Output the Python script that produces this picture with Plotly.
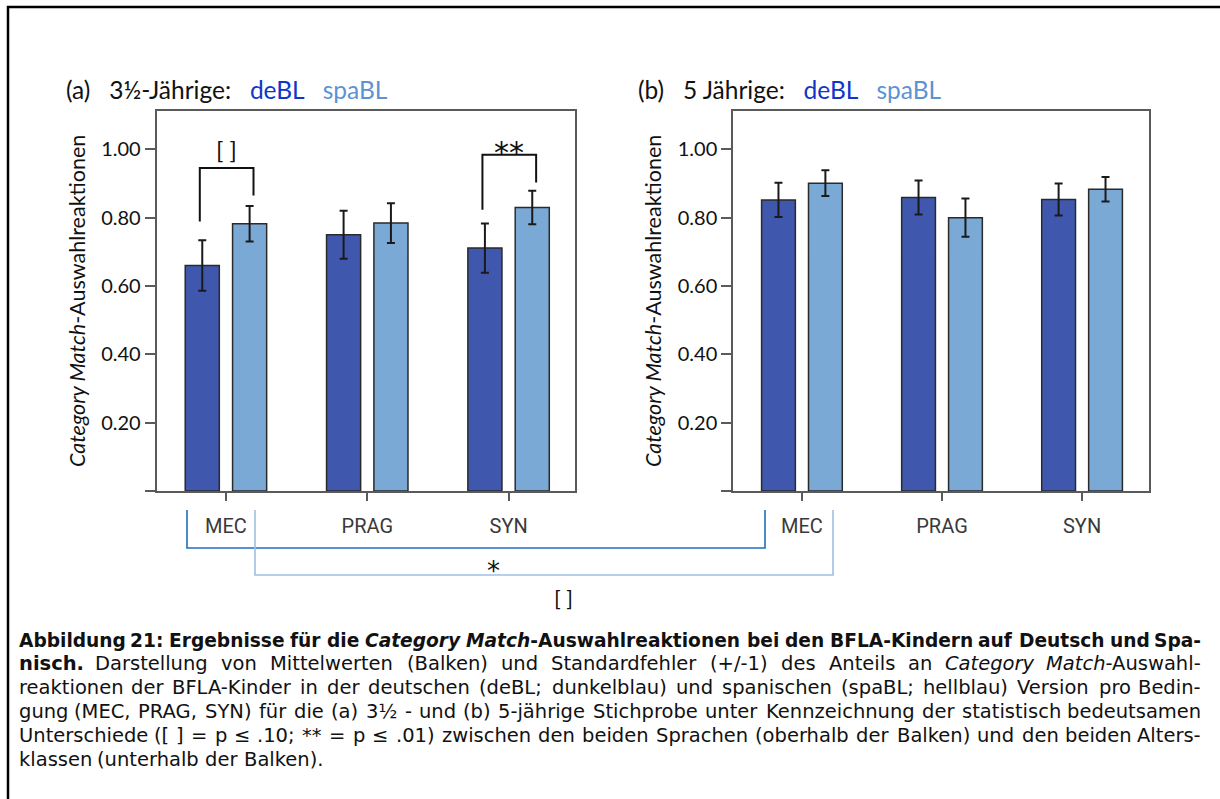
import plotly.graph_objects as go

# ---------------- data ----------------
categories = ["MEC", "PRAG", "SYN"]
series_names = ["deBL", "spaBL"]
a_debl = [0.660, 0.750, 0.711]
a_debl_err = [0.074, 0.070, 0.072]
a_spabl = [0.782, 0.784, 0.830]
a_spabl_err = [0.052, 0.058, 0.049]
b_debl = [0.852, 0.859, 0.853]
b_debl_err = [0.050, 0.050, 0.047]
b_spabl = [0.901, 0.800, 0.883]
b_spabl_err = [0.038, 0.056, 0.036]
y_tickvals = [0.0, 0.2, 0.4, 0.6, 0.8, 1.0]
y_ticktext = ["", "0.20", "0.40", "0.60", "0.80", "1.00"]

caption_lines = [
    "<b>Abbildung 21: Ergebnisse für die <i>Category Match</i>-Auswahlreaktionen bei den BFLA-Kindern auf Deutsch und Spa-</b>",
    "<b>nisch.</b> Darstellung von Mittelwerten (Balken) und Standardfehler (+/-1) des Anteils an <i>Category Match</i>-Auswahl-",
    "reaktionen der BFLA-Kinder in der deutschen (deBL; dunkelblau) und spanischen (spaBL; hellblau) Version pro Bedin-",
    "gung (MEC, PRAG, SYN) für die (a) 3½ - und (b) 5-jährige Stichprobe unter Kennzeichnung der statistisch bedeutsamen",
    "Unterschiede ([ ] =  p ≤ .10; ** = p ≤ .01) zwischen den beiden Sprachen (oberhalb der Balken) und den beiden Alters-",
    "klassen (unterhalb der Balken).",
]

W, H = 1220, 799
DARK = "#3F58AE"
LIGHT = "#7BA9D6"
FONT = "Lato"
STAR_FONT = "DejaVu Sans"
CAP_FONT = "DejaVu Sans"


def px(x):
    return x / W


def py(y):
    return 1 - y / H


fig = go.Figure()


def add_bars(vals, errs, color, xa, ya, name):
    fig.add_trace(go.Bar(
        x=categories, y=vals, name=name, xaxis=xa, yaxis=ya,
        marker=dict(color=color, line=dict(color="#2a2a2a", width=1.5)),
        error_y=dict(type="data", array=errs, visible=True,
                     color="#1a1a1a", thickness=2, width=4),
        showlegend=False,
    ))


add_bars(a_debl, a_debl_err, DARK, "x", "y", series_names[0])
add_bars(a_spabl, a_spabl_err, LIGHT, "x", "y", series_names[1])
add_bars(b_debl, b_debl_err, DARK, "x2", "y2", series_names[0])
add_bars(b_spabl, b_spabl_err, LIGHT, "x2", "y2", series_names[1])

xcommon = dict(type="category", showline=True, mirror=True, linecolor="#5a5a5a",
               linewidth=2, ticks="outside", ticklen=8, tickwidth=2,
               tickcolor="#5a5a5a", showgrid=False, zeroline=False,
               tickfont=dict(family="Liberation Sans Narrow, Roboto, sans-serif",
                             size=20, color="#3a3a3a"),
               ticklabelstandoff=8, fixedrange=True)
ycommon = dict(range=[0, 1.113], showline=True, mirror=True, linecolor="#5a5a5a",
               linewidth=2, ticks="outside", ticklen=10, tickwidth=2,
               tickcolor="#5a5a5a", showgrid=False, zeroline=False,
               tickvals=y_tickvals, ticktext=y_ticktext,
               tickfont=dict(family=FONT, size=20, color="#111"),
               title=dict(text="<i>Category Match</i>-Auswahlreaktionen",
                          font=dict(family=FONT, size=21.5, color="#111"),
                          standoff=10),
               fixedrange=True)

fig.update_layout(
    width=W, height=H, margin=dict(l=0, r=0, t=0, b=0),
    paper_bgcolor="white", plot_bgcolor="white",
    barmode="group", bargap=0.33, bargroupgap=0.28,
    xaxis=dict(domain=[px(156.7), px(575)], range=[-0.49, 2.47], anchor="y", **xcommon),
    yaxis=dict(domain=[py(491), py(110.7)], anchor="x", **ycommon),
    xaxis2=dict(domain=[px(733.3), px(1149.3)], range=[-0.49, 2.48], anchor="y2", **xcommon),
    yaxis2=dict(domain=[py(491), py(110.7)], anchor="x2", **ycommon),
)

shapes = []
annotations = []

# outer frame
shapes.append(dict(type="rect", xref="paper", yref="paper", x0=px(8), x1=px(1226),
                   y0=py(7), y1=py(808), line=dict(color="black", width=2.5)))

# panel titles
NB = "\u00a0"
def title(x, label):
    txt = (label + NB * 3 + "<span style='color:#1035C8'>deBL</span>" + NB * 3 +
           "<span style='color:#5B93D3'>spaBL</span>")
    annotations.append(dict(xref="paper", yref="paper", x=px(x), y=py(89),
                            xanchor="left", yanchor="middle", showarrow=False,
                            text=txt, font=dict(family=FONT, size=24.5, color="#111")))

title(64, "(a)" + NB * 3 + "3½-Jährige:")
title(636, "(b)" + NB * 3 + "5 Jährige:")

# significance brackets above bars (panel a)
OFF = 0.175
def bracket(cat_idx, y_left, y_top, y_right, label, label_y, size, family):
    xl = cat_idx - OFF - 0.01
    xr = cat_idx + OFF + 0.02
    shapes.append(dict(type="path", xref="x", yref="y",
                       path=f"M {xl},{y_left} L {xl},{y_top} L {xr},{y_top} L {xr},{y_right}",
                       line=dict(color="#111", width=2)))
    annotations.append(dict(xref="x", yref="y", x=(xl + xr) / 2, y=label_y,
                            text=label, showarrow=False, yanchor="middle",
                            font=dict(family=family, size=size, color="#111")))

bracket(0, 0.789, 0.945, 0.865, "[ ]", 1.0, 24, FONT)
bracket(2, 0.823, 0.984, 0.903, "**", 0.99, 30, STAR_FONT)

# age-group brackets below the axes
def low_bracket(x0, x1, ybot, color):
    shapes.append(dict(type="path", xref="paper", yref="paper",
                       path=f"M {px(x0)},{py(510)} L {px(x0)},{py(ybot)} L {px(x1)},{py(ybot)} L {px(x1)},{py(510)}",
                       line=dict(color=color, width=1.6)))

low_bracket(187, 765, 548, "#1F6FC2")
low_bracket(255, 833, 575, "#9DC0E6")
annotations.append(dict(xref="paper", yref="paper", x=px(493), y=py(588), text="*",
                        showarrow=False, font=dict(family=STAR_FONT, size=26, color="#111")))
annotations.append(dict(xref="paper", yref="paper", x=px(563), y=py(613), text="[ ]",
                        showarrow=False, font=dict(family=FONT, size=22, color="#111")))

# ---------------- caption: word-level justified text ----------------
_REG = dict(zip("abcdefghijklmnopqrstuvwxyz",
                [.613, .635, .550, .635, .615, .352, .635, .634, .278, .278, .579, .278, .974,
                 .634, .612, .635, .635, .411, .521, .392, .634, .592, .818, .592, .592, .525]))
_REG.update(dict(zip("ABCDEFGHIJKLMNOPQRSTUVWXYZ",
                     [.684, .686, .698, .770, .632, .575, .775, .752, .295, .295, .656, .557, .863,
                      .748, .787, .603, .787, .695, .635, .611, .732, .684, .989, .685, .611, .685])))
_REG.update({c: .636 for c in "0123456789"})
_REG.update({".": .318, ",": .318, ":": .337, ";": .337, "(": .390, ")": .390, "[": .390,
             "]": .390, "-": .361, "+": .838, "/": .337, "=": .838, "*": .5, "≤": .838,
             "½": 1.0, "ä": .613, "ö": .612, "ü": .634})
_BOLD = dict(zip("abcdefghijklmnopqrstuvwxyz",
                 [.675, .716, .593, .716, .678, .435, .716, .712, .343, .343, .665, .343, 1.042,
                  .712, .687, .716, .716, .493, .595, .478, .712, .652, .924, .645, .652, .582]))
_BOLD.update(dict(zip("ABCDEFGHIJKLMNOPQRSTUVWXYZ",
                      [.774, .762, .734, .830, .683, .683, .821, .837, .372, .372, .775, .637, .995,
                       .837, .850, .733, .850, .770, .720, .682, .812, .774, 1.103, .771, .724, .725])))
_BOLD.update({c: .696 for c in "0123456789"})
_BOLD.update({".": .380, ",": .380, ":": .400, ";": .400, "(": .457, ")": .457, "-": .415,
              "ä": .675, "ö": .687, "ü": .712})


def tokenize(line):
    words = []
    bold = italic = False
    for raw in line.split(" "):
        if raw == "":
            continue
        prefix = ("<b>" if bold else "") + ("<i>" if italic else "")
        body = ""
        w = 0.0
        i = 0
        while i < len(raw):
            for tag in ("<b>", "</b>", "<i>", "</i>"):
                if raw.startswith(tag, i):
                    if tag == "<b>":
                        bold = True
                    elif tag == "</b>":
                        bold = False
                    elif tag == "<i>":
                        italic = True
                    else:
                        italic = False
                    body += tag
                    i += len(tag)
                    break
            else:
                ch = raw[i]
                w += (_BOLD if bold else _REG).get(ch, _REG.get(ch, .6))
                body += ch
                i += 1
        suffix = ("</i>" if italic else "") + ("</b>" if bold else "")
        words.append((prefix + body + suffix, w))
    return words


X0, X1 = 17, 1203
cap_y = [640, 663.8, 687.6, 711.4, 735.2, 759]
BASE = 19.5
for li, (line, yy) in enumerate(zip(caption_lines, cap_y)):
    words = tokenize(line)
    tot_em = sum(w for _, w in words)
    size = BASE
    min_gap = 0.318 * size
    if tot_em * size + min_gap * (len(words) - 1) > (X1 - X0):
        size = (X1 - X0) / (tot_em + 0.318 * (len(words) - 1))
    last = li == len(caption_lines) - 1
    if last:
        gap = 0.318 * size
    else:
        gap = ((X1 - X0) - tot_em * size) / (len(words) - 1)
    x = X0
    for wi, (rich, w) in enumerate(words):
        wpx = w * size
        if not last and wi == len(words) - 1:
            ax, anchor = X1, "right"
        elif wi == 0:
            ax, anchor = X0, "left"
        else:
            ax, anchor = x + wpx / 2, "center"
        annotations.append(dict(xref="paper", yref="paper", x=px(ax), y=py(yy),
                                xanchor=anchor, yanchor="middle", showarrow=False,
                                text=rich, font=dict(family=CAP_FONT, size=size, color="#111")))
        x += wpx + gap

fig.update_layout(shapes=shapes, annotations=annotations)
fig.write_html("out.html")
